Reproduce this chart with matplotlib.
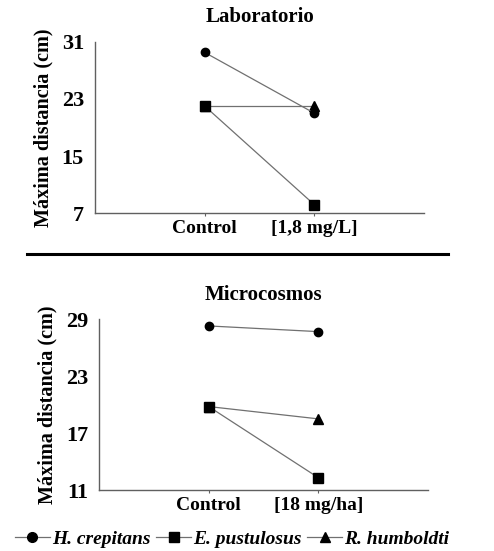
import matplotlib
matplotlib.use("Agg")
import matplotlib.pyplot as plt
from matplotlib.lines import Line2D

categories_lab = ["Control", "[1,8 mg/L]"]
categories_mic = ["Control", "[18 mg/ha]"]
species = ["H. crepitans", "E. pustulosus", "R. humboldti"]
markers = ["o", "s", "^"]

lab_h_crepitans = [29.5, 21.0]
lab_e_pustulosus = [22.0, 8.2]
lab_r_humboldti = [22.0, 22.0]

mic_h_crepitans = [28.3, 27.7]
mic_e_pustulosus = [19.8, 12.3]
mic_r_humboldti = [19.8, 18.5]

lab_yticks = [7, 15, 23, 31]
mic_yticks = [11, 17, 23, 29]

plt.rcParams['font.family'] = ['Liberation Serif', 'DejaVu Serif']
plt.rcParams['font.weight'] = 'bold'

W, H = 494, 551
fig = plt.figure(figsize=(W/100, H/100), dpi=100)

line_color = "#707070"
spine_color = "#606060"

def make_ax(rect, cats, series, yticks, title):
    ax = fig.add_axes(rect)
    x = list(range(len(cats)))
    order = [2, 0, 1]
    for i in order:
        ax.plot(x, series[i], color=line_color, lw=0.9, marker=markers[i],
                markersize=6.5 if markers[i] != "o" else 6,
                markerfacecolor="black", markeredgecolor="black", zorder=3)
    ax.set_xlim(-1, 2)
    ax.set_ylim(yticks[0], yticks[-1])
    ax.set_yticks(yticks)
    ax.set_xticks(x)
    ax.set_xticklabels(cats, fontsize=14, fontweight='bold')
    ax.tick_params(axis='y', length=0, labelsize=16, pad=8)
    ax.tick_params(axis='x', length=2, color=spine_color, pad=3)
    for lab in ax.get_yticklabels():
        lab.set_fontweight('bold')
    for s in ["top", "right"]:
        ax.spines[s].set_visible(False)
    for s in ["left", "bottom"]:
        ax.spines[s].set_color(spine_color)
        ax.spines[s].set_linewidth(1.0)
    ax.set_ylabel("Máxima distancia (cm)", fontsize=14.5, fontweight='bold', labelpad=6)
    ax.set_title(title, fontsize=15, fontweight='bold', pad=14)
    return ax

def rect(l, r, t, b):
    return [l/W, 1 - b/H, (r-l)/W, (b-t)/H]

ax1 = make_ax(rect(95, 424, 41.7, 213.3), categories_lab,
              [lab_h_crepitans, lab_e_pustulosus, lab_r_humboldti], lab_yticks, "Laboratorio")
ax2 = make_ax(rect(99, 428, 319.3, 490), categories_mic,
              [mic_h_crepitans, mic_e_pustulosus, mic_r_humboldti], mic_yticks, "Microcosmos")

fig.add_artist(Line2D([27/W, 448/W], [1 - 254/H, 1 - 254/H], color="black", lw=2.2))

handles = [Line2D([], [], color=line_color, lw=0.9, marker=m, markersize=7,
                  markerfacecolor="black", markeredgecolor="black") for m in markers]
leg = fig.legend(handles, species, loc="center", bbox_to_anchor=(0.47, 1 - 539/H),
                 ncol=3, frameon=False, handlelength=1.8, handletextpad=0.1,
                 columnspacing=0.3, prop={'family': 'Liberation Serif', 'weight': 'bold',
                                          'style': 'italic', 'size': 14})

fig.savefig("out.png", dpi=100)
